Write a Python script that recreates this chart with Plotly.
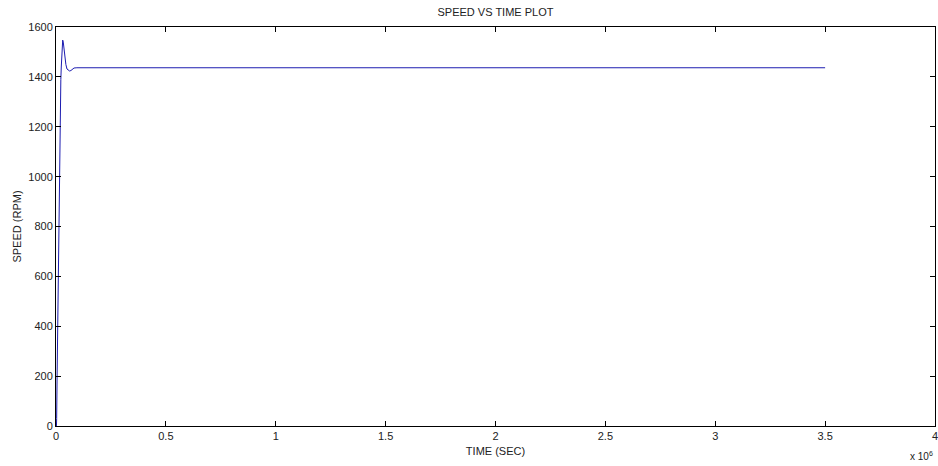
import plotly.graph_objects as go

# time in seconds, speed in rpm
time_s = [2000, 3000, 5000, 6000, 8000, 10000, 12000, 14000, 16000, 18000, 20000, 22000,
          24000, 26000, 28000, 30500, 33000, 36000, 40000, 45000, 50000, 56000, 62000,
          68000, 75000, 82000, 95000, 3500000]
speed_rpm = [0, 30, 200, 280, 530, 560, 850, 870, 1080, 1100, 1300, 1390,
             1440, 1500, 1530, 1548, 1540, 1515, 1480, 1450, 1432, 1427, 1424,
             1426, 1432, 1436, 1437, 1437]

x_tickvals = [0, 500000, 1000000, 1500000, 2000000, 2500000, 3000000, 3500000, 4000000]
x_ticktext = ["0", "0.5", "1", "1.5", "2", "2.5", "3", "3.5", "4"]
y_tickvals = [0, 200, 400, 600, 800, 1000, 1200, 1400, 1600]

FONT = "Liberation Sans, Arial"
fig = go.Figure()
fig.add_trace(go.Scatter(x=time_s, y=speed_rpm, mode="lines",
                         line=dict(color="#1c1cb0", width=1), showlegend=False))

axis_common = dict(showline=True, linecolor="black", linewidth=1, mirror="ticks",
                   ticks="inside", ticklen=5, tickcolor="black", showgrid=False,
                   zeroline=False, ticklabeloverflow="allow", automargin=False,
                   tickfont=dict(family=FONT, size=11, color="#222"))

fig.update_layout(
    width=938, height=466,
    margin=dict(l=56, r=3, t=27, b=40, autoexpand=False),
    paper_bgcolor="white", plot_bgcolor="white",
    title=dict(text="SPEED VS TIME PLOT", x=0.5, xref="paper", xanchor="center",
               y=1 - 12 / 466, yanchor="middle",
               font=dict(family=FONT, size=11, color="#222")),
    xaxis=dict(range=[0, 4000010], tickvals=x_tickvals, ticktext=x_ticktext,
               title=dict(text="TIME (SEC)", standoff=6,
                          font=dict(family=FONT, size=11, color="#222")),
               **axis_common),
    yaxis=dict(range=[0, 1600.5], tickvals=y_tickvals,
               title=dict(text="SPEED (RPM)", standoff=4,
                          font=dict(family=FONT, size=11, color="#222")),
               **axis_common),
    annotations=[dict(text="x 10<sup>6</sup>", x=1.0, y=-(464 - 426) / 399,
                      xref="paper", yref="paper",
                      xanchor="right", yanchor="bottom", showarrow=False,
                      font=dict(family=FONT, size=10, color="#222"))],
)

fig.write_html("out.html")
